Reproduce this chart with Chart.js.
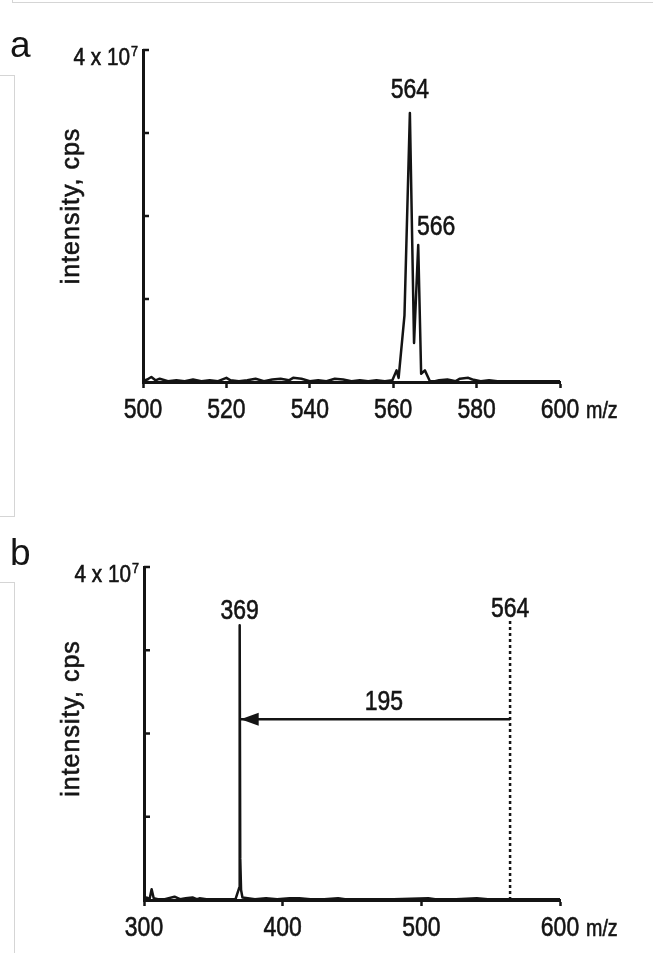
<!DOCTYPE html>
<html>
<head>
<meta charset="utf-8">
<script src="https://cdn.jsdelivr.net/npm/chart.js@4.4.1/dist/chart.umd.min.js"></script>
<style>
  html, body { margin: 0; padding: 0; background: #fff; }
  body { width: 653px; height: 953px; position: relative; overflow: hidden; }
  .edge { position: absolute; background: #d5d5d5; }
  canvas { position: absolute; left: 0; }
</style>
</head>
<body>
<!-- page edges around the two panels -->
<div class="edge" style="left:12px;top:2px;width:641px;height:1px"></div>
<div class="edge" style="left:12px;top:0;width:1px;height:3px"></div>
<div class="edge" style="left:0;top:75px;width:15px;height:1px"></div>
<div class="edge" style="left:14px;top:75px;width:1px;height:442px"></div>
<div class="edge" style="left:0;top:516px;width:15px;height:1px"></div>
<div class="edge" style="left:0;top:582px;width:15px;height:1px"></div>
<div class="edge" style="left:14px;top:582px;width:1px;height:371px"></div>

<canvas id="specA" width="653" height="476" style="top:0"></canvas>
<canvas id="specB" width="653" height="477" style="top:476px"></canvas>

<script>
// intensities are in units of 10^7 cps

// a: full scan 500-600
var scanMz = [500, 501, 502, 503, 504, 506, 508, 510, 512, 514,
              516, 518, 520, 521, 523, 525, 527, 529, 531, 533,
              535, 536, 538, 540, 542, 544, 546, 548, 550, 552,
              554, 556, 558, 559.8, 560.8, 561.3, 562.7, 564, 565, 566,
              566.7, 567.6, 568.8, 570, 571, 573, 575, 576, 578, 579,
              581, 583, 585, 588, 591, 594, 597, 600];
var scanIntensity = [0.01, 0.03, 0.06, 0.02, 0.04, 0.01, 0.02, 0.01, 0.03, 0.01,
                     0.02, 0.01, 0.05, 0.02, 0.01, 0.02, 0.04, 0.01, 0.03, 0.04,
                     0.02, 0.05, 0.04, 0.01, 0.02, 0.01, 0.04, 0.03, 0.01, 0.02,
                     0.01, 0.02, 0.01, 0.02, 0.14, 0.05, 0.8, 3.24, 0.47, 1.65,
                     0.1, 0.14, 0.01, 0.01, 0.02, 0.03, 0.01, 0.04, 0.05, 0.03,
                     0.01, 0.02, 0.01, 0.01, 0.01, 0.01, 0.01, 0.01];
var scanTicks = [500, 520, 540, 560, 580, 600];
var scanPeakMz = [564, 566];
var scanPeakIntensity = [3.24, 1.65];

// b: product ion scan 300-600
var fragMz = [300, 302, 304, 305.5, 307, 310, 315, 322, 326, 330,
              335, 338, 340, 345, 352, 360, 366, 368.7, 369, 369.4,
              370, 371, 380, 388, 396, 405, 412, 420, 430, 440,
              445, 460, 480, 505, 510, 525, 540, 548, 560, 580, 600];
var fragIntensity = [0.01, 0.03, 0.01, 0.13, 0.02, 0.01, 0.01, 0.04, 0.01, 0.02,
                     0.03, 0.01, 0.02, 0.01, 0.01, 0.01, 0.01, 0.15, 3.30, 0.5,
                     0.12, 0.03, 0.01, 0.02, 0.01, 0.02, 0.02, 0.01, 0.01, 0.02,
                     0.01, 0.01, 0.01, 0.02, 0.01, 0.01, 0.02, 0.01, 0.01, 0.01, 0.01];
var fragTicks = [300, 400, 500, 600];
var fragPeakMz = [369];
var fragPeakIntensity = [3.30];
var precursorMz = 564;
var precursorTop = 3.38;
var lossLevel = 2.17;
var lossLabelMz = 473;

var yTicks = [0, 1, 2, 3, 4];

var INK = '#141414';
var SANS = "'Liberation Sans', Arial, sans-serif";

function points(xs, ys) {
    var out = [];
    for (var i = 0; i < xs.length; i++) {
        out.push({ x: xs[i], y: ys[i] });
    }
    return out;
}

// filled text with a hairline stroke so it reads as heavy as the axes
function ink(ctx, text) {
    ctx.lineWidth = 0.6;
    ctx.fillText(text, 0, 0);
    ctx.strokeText(text, 0, 0);
}

// Helvetica-narrow look: squeeze Liberation Sans horizontally
function narrow(ctx, text, x, y, size, align, squeeze) {
    ctx.save();
    ctx.translate(x, y);
    ctx.scale(squeeze || 0.82, 1);
    ctx.font = size + 'px ' + SANS;
    ctx.textAlign = align;
    ink(ctx, text);
    ctx.restore();
}

// axis furniture, labels and the loss arrow
var decor = {
    id: 'decor',
    afterDraw: function (chart, args, o) {
        var ctx = chart.ctx;
        var xs = chart.scales.x, ys = chart.scales.y;
        var area = chart.chartArea;
        ctx.save();
        ctx.strokeStyle = INK;
        ctx.fillStyle = INK;
        ctx.lineWidth = 2.5;
        ctx.textBaseline = 'alphabetic';

        // ticks point into the plot on the intensity axis
        yTicks.forEach(function (v) {
            var py = ys.getPixelForValue(v);
            ctx.beginPath();
            ctx.moveTo(area.left, py);
            ctx.lineTo(area.left + 6, py);
            ctx.stroke();
        });

        var topY = ys.getPixelForValue(yTicks[yTicks.length - 1]);
        narrow(ctx, '4 x 10', area.left - 13, topY + 15, 23, 'right', 0.9);
        narrow(ctx, '7', area.left - 12, topY + 6, 14, 'left', 0.9);

        // m/z tick labels and title
        o.ticks.forEach(function (v) {
            narrow(ctx, String(v), xs.getPixelForValue(v), area.bottom + 36, 28, 'center');
        });
        narrow(ctx, 'm/z', area.right + 26, area.bottom + 36, 24, 'left');

        ctx.save();
        ctx.translate(79, (area.top + area.bottom) / 2 + o.titleShift);
        ctx.rotate(-Math.PI / 2);
        ctx.textAlign = 'center';
        ctx.font = '25px ' + SANS;
        ctx.letterSpacing = '1px';
        ink(ctx, 'intensity, cps');
        ctx.restore();

        // panel letter
        ctx.save();
        ctx.translate(10, o.letterY);
        ctx.textAlign = 'left';
        ctx.font = '37px ' + SANS;
        ctx.fillText(o.letter, 0, 0);
        ctx.restore();

        // peak labels
        o.peakMz.forEach(function (mz, i) {
            var off = o.labelOffsets[i];
            narrow(ctx, String(mz), xs.getPixelForValue(mz) + off[0],
                   ys.getPixelForValue(o.peakIntensity[i]) + off[1], 28, 'center');
        });

        if (o.precursor) {
            var px = xs.getPixelForValue(o.precursor);
            narrow(ctx, String(o.precursor), px, ys.getPixelForValue(precursorTop) - 2, 28, 'center');

            // arrowhead at the product ion
            var ay = ys.getPixelForValue(lossLevel);
            var tip = xs.getPixelForValue(o.peakMz[0]) + 1;
            ctx.beginPath();
            ctx.moveTo(tip, ay);
            ctx.lineTo(tip + 18, ay - 6.5);
            ctx.lineTo(tip + 18, ay + 6.5);
            ctx.closePath();
            ctx.fill();

            narrow(ctx, String(o.precursor - o.peakMz[0]), xs.getPixelForValue(lossLabelMz), ay - 9, 28, 'center');
        }
        ctx.restore();
    }
};

function spectrum(id, cfg) {
    var tickValues = cfg.ticks;
    cfg.decor.ticks = tickValues;
    return new Chart(document.getElementById(id), {
        type: 'scatter',
        data: { datasets: cfg.datasets },
        options: {
            responsive: false,
            animation: false,
            devicePixelRatio: 1,
            layout: { padding: { left: 0, right: 93, top: cfg.top, bottom: 0 } },
            scales: {
                x: {
                    type: 'linear',
                    min: tickValues[0],
                    max: tickValues[tickValues.length - 1],
                    afterBuildTicks: function (s) {
                        s.ticks = tickValues.map(function (v) { return { value: v }; });
                    },
                    afterFit: function (s) { s.height = cfg.xHeight; },
                    grid: {
                        display: true, drawOnChartArea: false, drawTicks: true,
                        tickLength: 6, tickWidth: 2.5, tickColor: INK
                    },
                    border: { display: true, color: INK, width: 3 },
                    ticks: { display: false }
                },
                y: {
                    min: 0,
                    max: 4,
                    afterBuildTicks: function (s) {
                        s.ticks = yTicks.map(function (v) { return { value: v }; });
                    },
                    afterFit: function (s) { s.width = cfg.left; },
                    grid: { display: false },
                    border: { display: true, color: INK, width: 3 },
                    ticks: { display: false }
                }
            },
            plugins: {
                legend: { display: false },
                tooltip: { enabled: false },
                decor: cfg.decor
            }
        },
        plugins: [decor]
    });
}

var lineStyle = {
    showLine: true, borderColor: INK, borderWidth: 2.5, pointRadius: 0,
    tension: 0, borderJoinStyle: 'round'
};

spectrum('specA', {
    top: 50, left: 143, xHeight: 94, ticks: scanTicks,
    datasets: [Object.assign({ data: points(scanMz, scanIntensity) }, lineStyle)],
    decor: {
        letter: 'a', letterY: 57, titleShift: -10,
        peakMz: scanPeakMz, peakIntensity: scanPeakIntensity,
        labelOffsets: [[0, -15], [18, -10]]
    }
});

spectrum('specB', {
    top: 91, left: 144, xHeight: 53, ticks: fragTicks,
    datasets: [
        Object.assign({ data: points(fragMz, fragIntensity) }, lineStyle),
        Object.assign({}, lineStyle, {
            data: points([precursorMz, precursorMz], [0, precursorTop]),
            borderWidth: 2.5, borderDash: [3, 3], borderJoinStyle: 'miter'
        }),
        Object.assign({}, lineStyle, {
            data: points([precursorMz, fragPeakMz[0]], [lossLevel, lossLevel])
        })
    ],
    decor: {
        letter: 'b', letterY: 89, titleShift: -15,
        peakMz: fragPeakMz, peakIntensity: fragPeakIntensity,
        labelOffsets: [[0, -6]], precursor: precursorMz
    }
});
</script>
</body>
</html>
